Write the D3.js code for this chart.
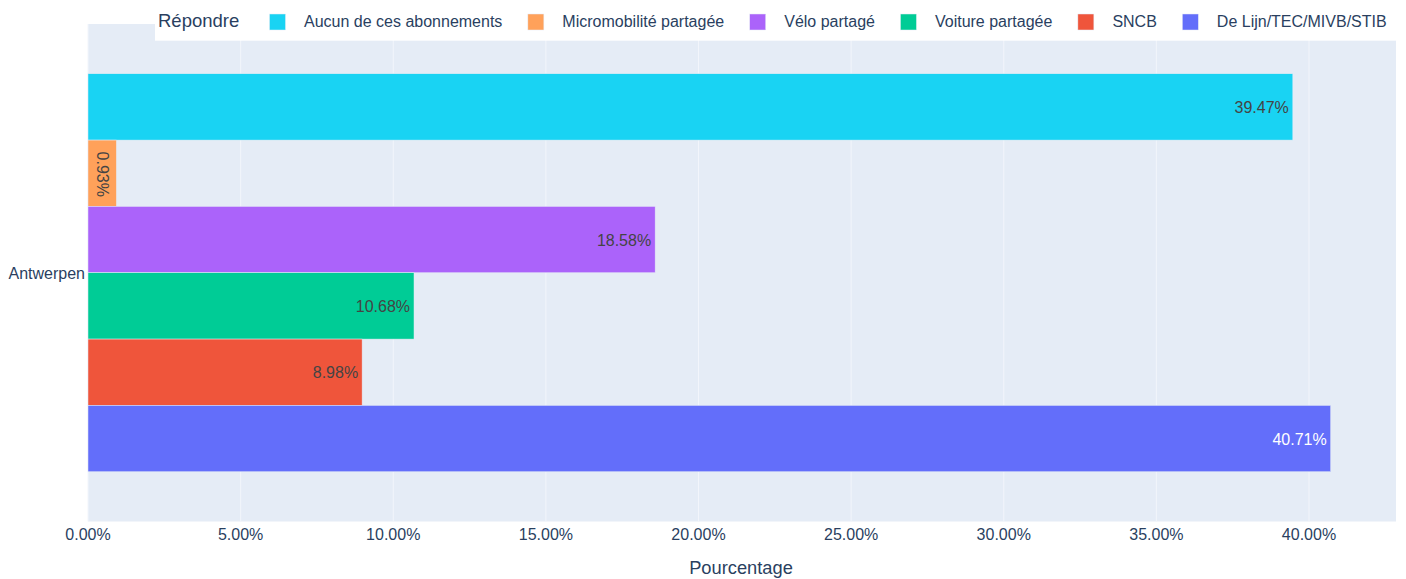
<!DOCTYPE html>
<html><head><meta charset="utf-8">
<script src="https://cdn.jsdelivr.net/npm/d3@7"></script>
<style>body{margin:0;background:#fff;font-family:"Liberation Sans",Arial,sans-serif;}</style>
</head><body>
<svg id="c" width="1406" height="579"></svg>
<script>
const categories = ["Antwerpen"];
const seriesNames = ["Aucun de ces abonnements","Micromobilité partagée","Vélo partagé","Voiture partagée","SNCB","De Lijn/TEC/MIVB/STIB"];
const seriesValues = [39.47, 0.93, 18.58, 10.68, 8.98, 40.71];
const seriesColors = ["#19d3f3","#FFA15A","#ab63fa","#00cc96","#EF553B","#636efa"];
const textColors = ["#444","#444","#444","#444","#444","#ffffff"];
const xTicks = [0,5,10,15,20,25,30,35,40];
const legendTitle = "Répondre";
const xTitle = "Pourcentage";

const svg = d3.select("#c");
const L = 88, R = 1396, T = 24, B = 521.5;
const font = '"Liberation Sans", Arial, sans-serif';
const x = d3.scaleLinear().domain([0, 42.85]).range([L, R]);
const yBand = d3.scaleBand().domain(categories).range([T, B]).paddingInner(0.2).paddingOuter(0.1);
const yInner = d3.scaleBand().domain(seriesNames).range([0, yBand.bandwidth()]);

svg.append("rect").attr("x", L).attr("y", T).attr("width", R - L).attr("height", B - T).attr("fill", "#E5ECF6");

svg.append("g").selectAll("line").data(xTicks).join("line")
  .attr("x1", d => x(d)).attr("x2", d => x(d)).attr("y1", T).attr("y2", B)
  .attr("stroke", "#F2F5FB").attr("stroke-width", 1);

const g = svg.append("g");
categories.forEach(cat => {
  seriesNames.forEach((s, i) => {
    const v = seriesValues[i];
    const y0 = yBand(cat) + yInner(s);
    const h = yInner.bandwidth();
    g.append("rect").attr("x", x(0)).attr("y", y0).attr("width", x(v) - x(0)).attr("height", h)
      .attr("fill", seriesColors[i]).attr("stroke", "#E5ECF6").attr("stroke-width", 0.5);
    const label = v.toFixed(2) + "%";
    const t = g.append("text").text(label).attr("font-family", font).attr("font-size", 16)
      .attr("fill", textColors[i]);
    const w = x(v) - x(0);
    if (w < 60) {
      t.attr("text-anchor", "middle").attr("dominant-baseline", "central")
        .attr("transform", `translate(${x(0) + w / 2},${y0 + h / 2 + 1}) rotate(90)`);
    } else {
      t.attr("x", x(v) - 4).attr("y", y0 + h / 2 + 6).attr("text-anchor", "end");
    }
  });
});

// axes labels
svg.append("g").selectAll("text").data(xTicks).join("text")
  .attr("x", d => x(d)).attr("y", 540).attr("text-anchor", "middle")
  .attr("font-family", font).attr("font-size", 16).attr("fill", "#2a3f5f")
  .text(d => d.toFixed(2) + "%");
svg.append("g").selectAll("text").data(categories).join("text")
  .attr("x", 85).attr("y", d => yBand(d) + yBand.bandwidth() / 2 + 6).attr("text-anchor", "end")
  .attr("font-family", font).attr("font-size", 16).attr("fill", "#2a3f5f").text(d => d);
svg.append("text").attr("x", (L + R) / 2 - 1).attr("y", 574).attr("text-anchor", "middle")
  .attr("font-family", font).attr("font-size", 18.3).attr("fill", "#2a3f5f").text(xTitle);

// legend
const lg = svg.append("g");
lg.append("rect").attr("x", 155).attr("y", 0).attr("width", 1406 - 155).attr("height", 40.7).attr("fill", "#fff");
lg.append("text").attr("x", 158).attr("y", 26.5).attr("font-family", font).attr("font-size", 18.5)
  .attr("fill", "#2a3f5f").text(legendTitle);
let lx = 269.5;
seriesNames.forEach((s, i) => {
  lg.append("rect").attr("x", lx).attr("y", 14).attr("width", 16).attr("height", 16)
    .attr("fill", seriesColors[i]).attr("stroke", "#E5ECF6").attr("stroke-width", 0.5);
  const t = lg.append("text").attr("x", lx + 34.5).attr("y", 27).attr("font-family", font).attr("font-size", 16)
    .attr("fill", "#2a3f5f").text(s);
  lx = lx + 34.5 + t.node().getComputedTextLength() + 25.5;
});
</script>
</body></html>
